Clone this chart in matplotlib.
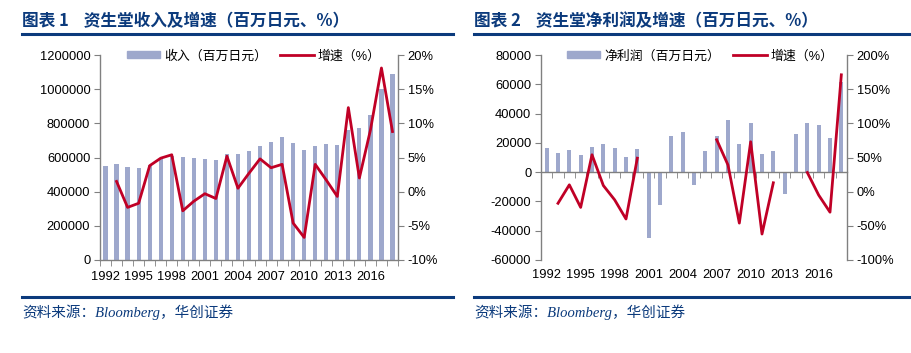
import numpy as np
import matplotlib.pyplot as plt
from matplotlib.lines import Line2D
from matplotlib.patches import Patch
from matplotlib.ticker import FuncFormatter, MultipleLocator, FixedLocator
from matplotlib.transforms import blended_transform_factory

plt.rcParams['font.family'] = ['Liberation Sans', 'Noto Sans CJK SC']
plt.rcParams['axes.unicode_minus'] = False

years = np.arange(1992, 2019)
label_years = list(range(1992, 2019, 3))

# 收入（百万日元）
revenue = [550000, 560000, 546000, 538000, 556000, 589000, 610000, 601000, 595000,
           591000, 585000, 620000, 620000, 638000, 667000, 690000, 720000, 685000,
           642000, 667000, 679000, 673000, 761000, 773000, 847000, 1001000, 1091000]
# 收入增速（%）
revenue_growth = [np.nan, 1.5, -2.3, -1.7, 3.8, 4.9, 5.4, -2.8, -1.4, -0.3, -1.0, 5.2,
                  0.5, 2.7, 4.8, 3.5, 4.0, -4.6, -6.7, 4.0, 1.7, -0.7, 12.3, 2.0, 9.0,
                  18.1, 8.8]
# 净利润（百万日元）
profit = [16200, 13200, 14800, 11400, 17300, 18900, 16800, 10200, 15500, -44800,
          -22500, 24400, 27500, -8900, 14300, 25000, 35500, 19300, 33700, 12700,
          14600, -14600, 26200, 33700, 32100, 23000, 61500]
# 净利润增速（%）
profit_growth = [np.nan, -17, 10, -23, 54, 9, -12, -40, 49, np.nan, np.nan, np.nan,
                 np.nan, np.nan, np.nan, 76, 39, -46, 73, -62, 13, np.nan, np.nan,
                 28, -5, -30, 171]

BAR = '#9ea8cc'
LINE = '#c00026'
NAVY = '#0b3a7c'
GREY = '#808080'
FS = 9.3

fig = plt.figure(figsize=(9.12, 3.53), dpi=100)


def style_axes(ax, ax2):
    for a in (ax, ax2):
        a.spines['top'].set_visible(False)
        for s in ('left', 'right', 'bottom'):
            a.spines[s].set_color(GREY)
            a.spines[s].set_linewidth(1.0)
    ax.spines['right'].set_visible(False)
    ax2.spines['left'].set_visible(False)
    ax2.spines['bottom'].set_visible(False)
    ax.tick_params(axis='y', direction='out', length=4, color=GREY, labelsize=FS, pad=3)
    ax2.tick_params(axis='y', direction='out', length=4, color=GREY, labelsize=FS, pad=3)
    ax.set_xlim(years[0] - 0.5, years[-1] + 0.5)
    ax.xaxis.set_minor_locator(FixedLocator(np.arange(years[0] - 0.5, years[-1] + 1.0, 1.0)))
    ax.tick_params(axis='x', which='minor', direction='out', length=4, color=GREY)


def draw_title(x0, x1, text):
    fig.text(x0 / 912, 1 - 21 / 353, text, fontsize=12, fontweight='bold', color=NAVY,
             family=['Noto Sans CJK SC'], va='center', ha='left')
    fig.add_artist(Line2D([x0 / 912, x1 / 912], [1 - 34 / 353] * 2, color=NAVY, lw=2.2))
    fig.add_artist(Line2D([x0 / 912, x1 / 912], [1 - 297 / 353] * 2, color=NAVY, lw=2.2))
    fig.text(x0 / 912, 1 - 312 / 353, '资料来源：Bloomberg，华创证券', fontsize=10.5,
             style='italic', color=NAVY, family=['Liberation Serif', 'Noto Sans CJK SC'],
             va='center', ha='left')


pct = FuncFormatter(lambda v, p: f'{v:.0f}%')

# ---- 图表1 ----
ax1 = fig.add_axes([100 / 912, 1 - 260 / 353, 298 / 912, 205 / 353])
ax1b = ax1.twinx()
ax1.bar(years, revenue, width=0.38, color=BAR, zorder=2)
ax1b.plot(years, revenue_growth, color=LINE, lw=2, zorder=3)
ax1.set_ylim(0, 1200000)
ax1.yaxis.set_major_locator(MultipleLocator(200000))
ax1.yaxis.set_major_formatter(FuncFormatter(lambda v, p: f'{v:.0f}'))
ax1b.set_ylim(-10, 20)
ax1b.yaxis.set_major_locator(MultipleLocator(5))
ax1b.yaxis.set_major_formatter(pct)
style_axes(ax1, ax1b)
ax1.set_xticks(label_years)
ax1.tick_params(axis='x', which='major', length=0, labelsize=FS, pad=8)
ax1.legend([Patch(color=BAR), Line2D([0], [0], color=LINE, lw=2)],
           ['收入（百万日元）', '增速（%）'], loc='upper center',
           bbox_to_anchor=(0.515, 1.05), ncol=2, frameon=False, fontsize=FS,
           handlelength=2.6, handleheight=0.5, columnspacing=1.0, handletextpad=0.3,
           borderaxespad=0)
draw_title(22, 453, '图表 1    资生堂收入及增速（百万日元、%）')

# ---- 图表2 ----
ax2 = fig.add_axes([541 / 912, 1 - 260 / 353, 306 / 912, 205 / 353])
ax2b = ax2.twinx()
ax2.bar(years, profit, width=0.35, color=BAR, zorder=2)
ax2b.plot(years, profit_growth, color=LINE, lw=2, zorder=3)
ax2.set_ylim(-60000, 80000)
ax2.yaxis.set_major_locator(MultipleLocator(20000))
ax2.yaxis.set_major_formatter(FuncFormatter(lambda v, p: f'{v:.0f}'))
ax2b.set_ylim(-100, 200)
ax2b.yaxis.set_major_locator(MultipleLocator(50))
ax2b.yaxis.set_major_formatter(pct)
style_axes(ax2, ax2b)
ax2.spines['bottom'].set_position(('data', 0))
ax2.set_xticks(label_years)
ax2.tick_params(axis='x', which='major', length=0, labelbottom=False)
tr = blended_transform_factory(ax2.transData, ax2.transAxes)
for y in label_years:
    ax2.text(y, -0.045, str(y), transform=tr, ha='center', va='top', fontsize=FS)
ax2.legend([Patch(color=BAR), Line2D([0], [0], color=LINE, lw=2)],
           ['净利润（百万日元）', '增速（%）'], loc='upper center',
           bbox_to_anchor=(0.52, 1.05), ncol=2, frameon=False, fontsize=FS,
           handlelength=2.6, handleheight=0.5, columnspacing=1.0, handletextpad=0.3,
           borderaxespad=0)
draw_title(474, 909, '图表 2    资生堂净利润及增速（百万日元、%）')

fig.savefig('out.png', dpi=100)
